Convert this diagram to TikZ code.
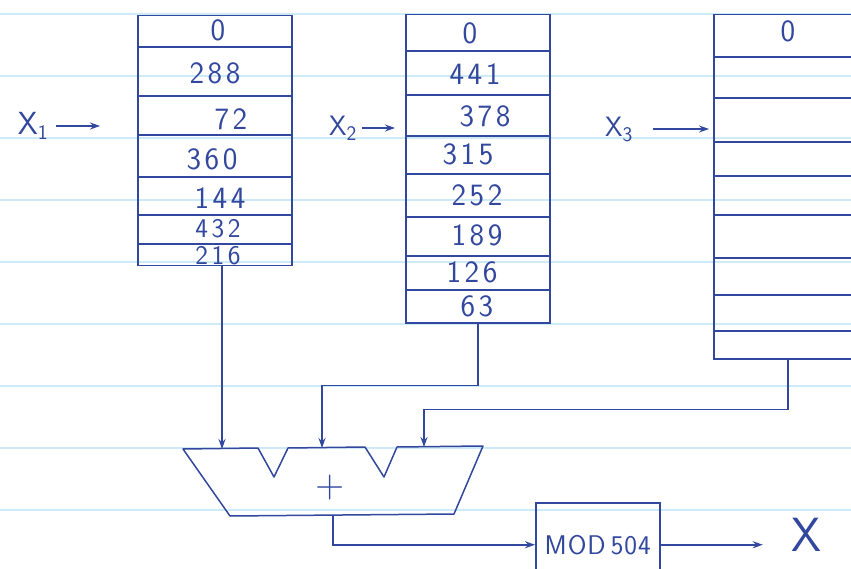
\documentclass[tikz,border=0pt]{standalone}
\usetikzlibrary{arrows.meta,calc}
\definecolor{pen}{RGB}{50,72,158}
\definecolor{rule}{RGB}{205,235,246}
\def\mydigsp#1{\mydigspA#1\relax}
\def\mydigspA#1#2{#1\ifx\relax#2\else\kern3.5pt\expandafter\mydigspA\expandafter#2\fi}
\begin{document}
\begin{tikzpicture}[x=1pt,y=-1pt,
  every node/.style={text=pen, font=\sffamily},
  tbl/.style={draw=pen, line width=1.5pt, inner sep=0pt, anchor=north west},
  ln/.style={draw=pen, line width=1.5pt, line join=round},
  arr/.style={draw=pen, line width=1.5pt, -{Stealth[length=10pt,width=7pt]}},
  num/.style={font=\sffamily\fontsize{31}{31}\selectfont, inner sep=0pt},
  sml/.style={font=\sffamily\fontsize{27}{27}\selectfont, inner sep=0pt},
  lab/.style={font=\sffamily\fontsize{32}{32}\selectfont, inner sep=0pt},
  modtxt/.style={font=\sffamily\fontsize{27}{27}\selectfont},
  bigx/.style={font=\sffamily\fontsize{48}{48}\selectfont, inner sep=2pt}
]
\useasboundingbox (0,0) rectangle (851,569);
\fill[white] (0,0) rectangle (851,569);
\clip (0,0) rectangle (851,569);
% ruled paper
\foreach \y in {14,76,138,200,262,324,386,448,510}
  \draw[rule, line width=2pt] (0,\y) -- (851,\y);

% table 1
\node[tbl, minimum width=154pt, minimum height=250pt] (t1) at (137,15) {};
\foreach \y in {47,96,135,177,215,244}
  \draw[ln] (137,\y) -- (291,\y);
\foreach \v/\x/\y [count=\i] in {0/218/30,288/215/73,72/231/119,360/212/159,144/220/198}
  \node[num] (ta\i) at (\x,\y) {\expandafter\mydigsp\expandafter{\v}};
\node[sml] (ta6) at (218,229) {\mydigsp{432}};
\node[sml] (ta7) at (218,256) {\mydigsp{216}};

% table 2
\node[tbl, minimum width=144pt, minimum height=308pt] (t2) at (405,14) {};
\foreach \y in {51,95,136,174,217,256,290}
  \draw[ln] (405,\y) -- (549,\y);
\foreach \v/\x/\y [count=\i] in {0/470/33,441/475/74,378/485/116,315/468/154,252/477/195,189/477/235,126/472/272,63/477/306}
  \node[num] (tb\i) at (\x,\y) {\expandafter\mydigsp\expandafter{\v}};

% table 3
\node[tbl, minimum width=148pt, minimum height=344pt] (t3) at (713,14) {};
\foreach \y in {57,98,142,176,215,258,295,331}
  \draw[ln] (713,\y) -- (861,\y);
\node[num] (tc1) at (788,31) {0};

% input labels
\node[lab] (x1) at (33,126) {X$_{\mathsf{1}}$};
\node[lab, font=\sffamily\fontsize{28}{28}\selectfont] (x2) at (343,128) {X$_{\mathsf{2}}$};
\node[lab, font=\sffamily\fontsize{28}{28}\selectfont] (x3) at (619,129) {X$_{\mathsf{3}}$};
\draw[arr, shorten <=8pt, shorten >=37pt] (x1.east) -- (x1.east -| t1.west);
\draw[arr, shorten <=5pt, shorten >=10pt] (x2.east) -- (x2.east -| t2.west);
\draw[arr, shorten <=20pt, shorten >=4pt] (x3.east) -- (x3.east -| t3.west);

% adder
\coordinate (a1) at (222,449);
\coordinate (a2) at (322,448);
\coordinate (a3) at (424,447);
\coordinate (sumout) at (333,516);
\draw[ln] (183,449) -- (258,448) -- (274,477) -- (288,448) -- (365,447) -- (384,477)
  -- (397,447) -- (483,446) -- (454,514) -- (230,516) -- cycle;
\node[font=\sffamily\fontsize{40}{40}\selectfont, inner sep=0pt] (plus) at (330,488) {+};

\draw[arr] (t1.south -| a1) -- (a1);
\draw[arr] (t2.south) -- ++(0,62) -| (a2);
\draw[arr] (t3.south) -- ++(0,50) -| (a3);

% mod box and output
\node[tbl, minimum width=124pt, minimum height=84pt, modtxt] (mod) at (535,502) {M\kern1ptO\kern1ptD\kern5pt5\kern1pt0\kern1pt4};
\draw[arr] (sumout) |- (mod.west);
\node[bigx] (xo) at (806,535) {X};
\draw[arr, shorten >=26pt] (mod.east) -- (mod.east -| xo.west);
\end{tikzpicture}
\end{document}
